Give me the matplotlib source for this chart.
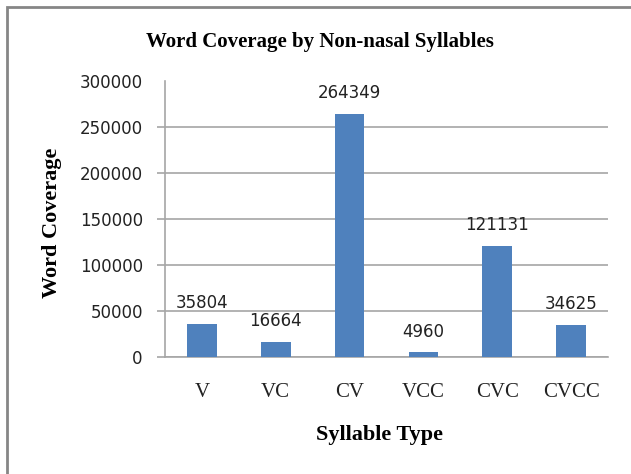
import matplotlib
matplotlib.use("Agg")
import matplotlib.pyplot as plt
from matplotlib.patches import Rectangle

categories = ["V", "VC", "CV", "VCC", "CVC", "CVCC"]
coverage = [35804, 16664, 264349, 4960, 121131, 34625]
y_ticks = [0, 50000, 100000, 150000, 200000, 250000, 300000]

bar_color = "#4F81BD"
grid_color = "#A6A6A6"
serif = "Liberation Serif"

fig = plt.figure(figsize=(6.31, 4.74), dpi=100)
ax = fig.add_axes([165 / 631, 1 - 357 / 474, (608 - 165) / 631, (357 - 81) / 474])

x = range(len(categories))
ax.bar(x, coverage, width=0.4, color=bar_color, zorder=3)
for xi, v in zip(x, coverage):
    ax.annotate(str(v), (xi, v), xytext=(0, 15), textcoords="offset points",
                ha="center", va="center", fontsize=12, color="#222222",
                family="DejaVu Sans")

ax.set_xlim(-0.5, len(categories) - 0.5)
ax.set_ylim(0, 300000)
ax.set_yticks(y_ticks)
ax.set_yticklabels([str(t) for t in y_ticks], family="DejaVu Sans", fontsize=12, color="#222222")
ax.set_xticks(list(x))
ax.set_xticklabels(categories, family=serif, fontsize=15, color="#222222")

ax.yaxis.grid(True, color=grid_color, linewidth=1.2, zorder=0)
ax.yaxis.get_gridlines()[-1].set_visible(False)
ax.yaxis.get_major_ticks()[-1].tick1line.set_visible(False)
ax.tick_params(axis="y", length=6, width=1.2, color=grid_color, pad=10)
ax.tick_params(axis="x", length=0, pad=19)

for side in ["top", "right"]:
    ax.spines[side].set_visible(False)
ax.spines["left"].set_color(grid_color)
ax.spines["left"].set_linewidth(1.2)
ax.spines["bottom"].set_color(grid_color)
ax.spines["bottom"].set_linewidth(1.2)

fig.text(320 / 631, 1 - 42 / 474, "Word Coverage by Non-nasal Syllables",
         ha="center", va="center", fontsize=15, fontweight="bold", family=serif)
fig.text(52 / 631, 1 - 223 / 474, "Word Coverage", rotation=90,
         ha="center", va="center", fontsize=16, fontweight="bold", family=serif)
fig.text(380 / 631, 1 - 435 / 474, "Syllable Type",
         ha="center", va="center", fontsize=16, fontweight="bold", family=serif)

# outer chart frame
fig.patches.append(Rectangle((7 / 631, -0.1), 1.2, 1.1 - 7 / 474, transform=fig.transFigure,
                             fill=False, edgecolor="#868686", linewidth=2))

fig.savefig("out.png", dpi=100)
